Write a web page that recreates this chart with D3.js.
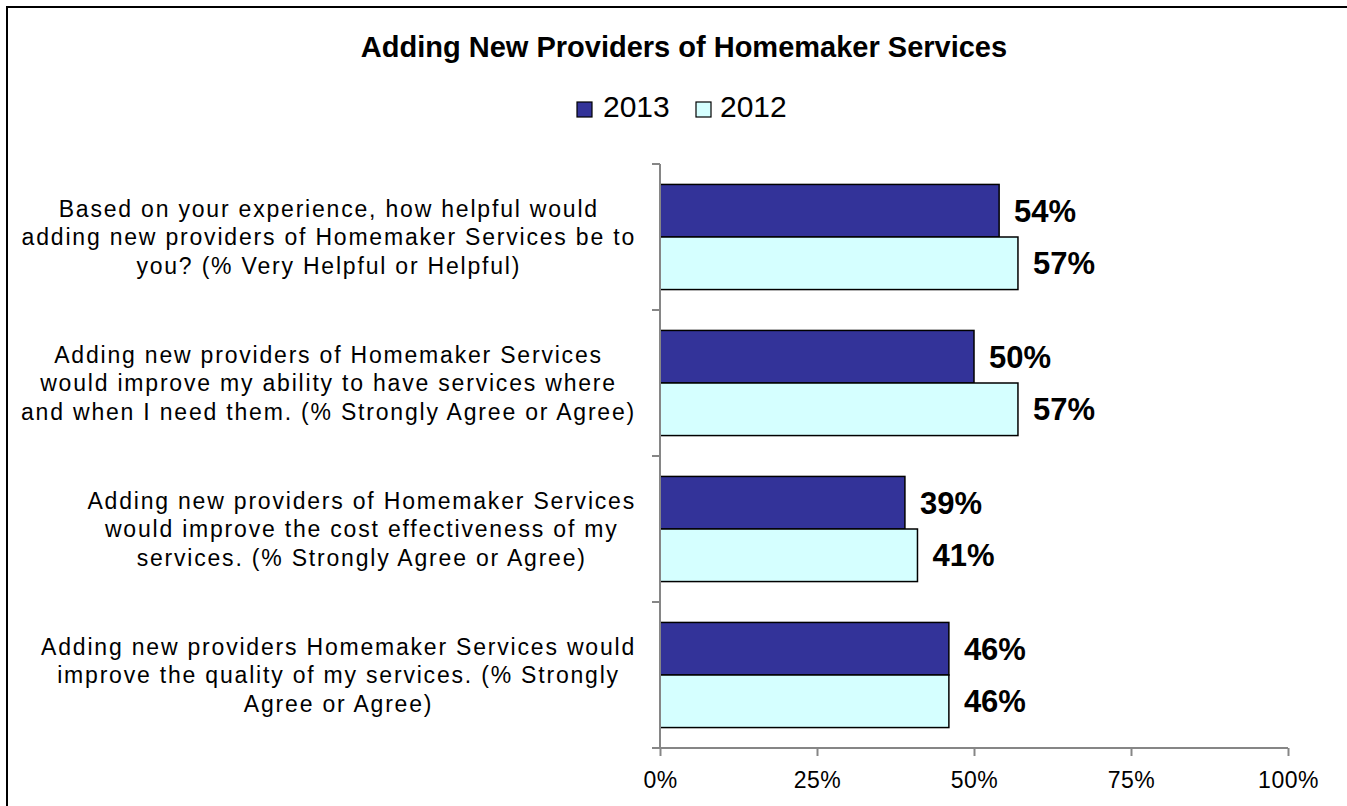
<!DOCTYPE html>
<html>
<head>
<meta charset="utf-8">
<script src="https://cdn.jsdelivr.net/npm/d3@7"></script>
<style>
  html, body { margin: 0; padding: 0; background: #fff; }
  svg { display: block; font-family: "Liberation Sans", Arial, sans-serif; }
</style>
</head>
<body>
<svg id="chart" width="1347" height="806"></svg>
<script>
// Survey items, each wrapped into its display lines
const categories = [
  ["Based on your experience, how helpful would",
   "adding new providers of Homemaker Services be to",
   "you? (% Very Helpful or Helpful)"],
  ["Adding new providers of Homemaker Services",
   "would improve my ability to have services where",
   "and when I need them. (% Strongly Agree or Agree)"],
  ["Adding new providers of Homemaker Services",
   "would improve the cost effectiveness of my",
   "services. (% Strongly Agree or Agree)"],
  ["Adding new providers Homemaker Services would",
   "improve the quality of my services. (% Strongly",
   "Agree or Agree)"]
];
const seriesNames = ["2013", "2012"];
const values2013 = [54, 50, 39, 46];
const values2012 = [57, 57, 41, 46];
const xTicks = [0, 25, 50, 75, 100];
const title = "Adding New Providers of Homemaker Services";

const colors = { "2013": "#333399", "2012": "#d5ffff" };

const svg = d3.select("#chart");

// outer frame
svg.append("rect")
  .attr("x", 7).attr("y", 7)
  .attr("width", 1360).attr("height", 820)
  .attr("fill", "none").attr("stroke", "#000").attr("stroke-width", 2);

const plot = { left: 660, right: 1288, top: 164, bottom: 748 };

const x = d3.scaleLinear().domain([0, 100]).range([plot.left, plot.right]);
const y = d3.scaleBand()
  .domain(d3.range(categories.length))
  .range([plot.top, plot.bottom])
  .paddingInner(0.28).paddingOuter(0.14);
const ySub = d3.scaleBand().domain(seriesNames).range([0, y.bandwidth()]);

// title
svg.append("text")
  .attr("x", 684).attr("y", 57)
  .attr("text-anchor", "middle")
  .attr("font-weight", "bold").attr("font-size", 29)
  .text(title);

// legend
const legendItems = [
  { name: "2013", sx: 577, tx: 603 },
  { name: "2012", sx: 696, tx: 720 }
];
const lg = svg.append("g");
legendItems.forEach(it => {
  lg.append("rect")
    .attr("x", it.sx).attr("y", 102).attr("width", 15).attr("height", 15)
    .attr("fill", colors[it.name]).attr("stroke", "#000").attr("stroke-width", 1.2);
  lg.append("text")
    .attr("x", it.tx).attr("y", 117)
    .attr("font-size", 30)
    .text(it.name);
});

// bars
const rows = categories.map((c, i) => ({ i, v: { "2013": values2013[i], "2012": values2012[i] } }));
const groups = svg.append("g").selectAll("g").data(rows).join("g")
  .attr("transform", d => `translate(0,${y(d.i)})`);

groups.selectAll("rect")
  .data(d => seriesNames.map(s => ({ s, v: d.v[s] })))
  .join("rect")
  .attr("x", x(0))
  .attr("y", d => ySub(d.s))
  .attr("width", d => x(d.v) - x(0))
  .attr("height", ySub.bandwidth())
  .attr("fill", d => colors[d.s])
  .attr("stroke", "#000").attr("stroke-width", 1.5);

groups.selectAll("text.val")
  .data(d => seriesNames.map(s => ({ s, v: d.v[s] })))
  .join("text").attr("class", "val")
  .attr("x", d => x(d.v) + 15)
  .attr("y", d => ySub(d.s) + ySub.bandwidth() / 2)
  .attr("dy", "0.36em")
  .attr("font-weight", "bold").attr("font-size", 31)
  .text(d => d.v + "%");

// y axis with ticks at category boundaries
const axisColor = "#868686";
const ax = svg.append("g");
ax.append("line")
  .attr("x1", x(0)).attr("x2", x(0))
  .attr("y1", plot.top).attr("y2", plot.bottom)
  .attr("stroke", axisColor).attr("stroke-width", 2);
const bounds = d3.range(categories.length + 1).map(i => plot.top + i * y.step());
ax.selectAll("line.yt").data(bounds).join("line").attr("class", "yt")
  .attr("x1", x(0) - 8).attr("x2", x(0))
  .attr("y1", d => d).attr("y2", d => d)
  .attr("stroke", axisColor).attr("stroke-width", 2);

// x axis
const xAxis = d3.axisBottom(x)
  .tickValues(xTicks)
  .tickFormat(d => d + "%")
  .tickSize(8).tickSizeOuter(0).tickPadding(16);
const xg = svg.append("g")
  .attr("transform", `translate(0,${plot.bottom})`)
  .call(xAxis);
xg.select(".domain").attr("stroke", axisColor).attr("stroke-width", 2)
  .attr("d", `M${x(0) - 8},0H${x(100)}`);
xg.selectAll(".tick line").attr("stroke", axisColor).attr("stroke-width", 2);
xg.selectAll(".tick text")
  .attr("fill", "#000")
  .attr("font-family", "\"Liberation Sans\", Arial, sans-serif")
  .attr("font-size", 23)
  .attr("letter-spacing", 0.5);

// category labels: lines centred within a right-aligned block
const labelRight = 636;
const lineH = 28.5;
const lab = svg.append("g");
categories.forEach((lines, i) => {
  const cy = y(i) + y.bandwidth() / 2;
  const g = lab.append("g");
  const ts = lines.map((ln, k) => g.append("text")
    .attr("font-size", 23)
    .attr("letter-spacing", 1.8)
    .attr("text-anchor", "middle")
    .attr("y", cy + (k - (lines.length - 1) / 2) * lineH + 8)
    .text(ln));
  const maxW = d3.max(ts, t => t.node().getComputedTextLength());
  ts.forEach(t => t.attr("x", labelRight - maxW / 2));
});
</script>
</body>
</html>
